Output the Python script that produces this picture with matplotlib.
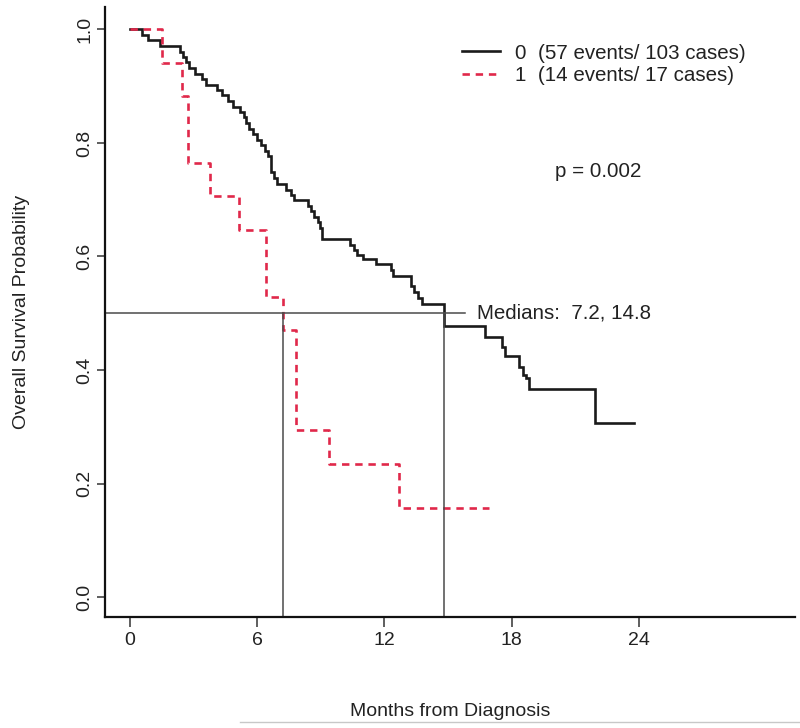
import matplotlib
matplotlib.use("Agg")
import matplotlib.pyplot as plt
from matplotlib.lines import Line2D

plt.rcParams['font.family'] = ['Liberation Sans', 'DejaVu Sans']

# ---- data ----
# group 0: 57 events / 103 cases  (time in months, survival after the step)
g0_time = [0, 0.57, 0.85, 1.42, 2.37, 2.51, 2.65, 2.80, 3.08, 3.41, 3.60,
           4.08, 4.36, 4.60, 4.88, 5.21, 5.36, 5.45, 5.59, 5.78, 5.97,
           6.16, 6.35, 6.49, 6.64, 6.78, 6.92, 7.35, 7.58, 7.73, 8.39,
           8.53, 8.67, 8.86, 8.96, 9.05, 10.38, 10.57, 10.71, 10.99, 11.61,
           12.32, 12.42, 13.27, 13.41, 13.60, 13.79, 14.83, 16.73, 17.54,
           17.68, 18.34, 18.53, 18.67, 18.82, 21.94, 23.79]
g0_surv = [1.0, 0.990, 0.981, 0.971, 0.961, 0.951, 0.942, 0.932, 0.922, 0.913,
           0.903, 0.893, 0.884, 0.874, 0.864, 0.854, 0.845, 0.835, 0.825,
           0.816, 0.806, 0.796, 0.786, 0.777, 0.748, 0.738, 0.728, 0.718,
           0.709, 0.699, 0.689, 0.680, 0.670, 0.660, 0.650, 0.631, 0.621,
           0.612, 0.602, 0.595, 0.586, 0.577, 0.566, 0.548, 0.537, 0.527,
           0.516, 0.477, 0.459, 0.440, 0.424, 0.406, 0.392, 0.386, 0.367,
           0.306, 0.306]

# group 1: 14 events / 17 cases
g1_time = [0, 1.52, 2.46, 2.75, 3.79, 5.12, 6.40, 7.20, 7.82, 9.38, 12.70, 16.92]
g1_surv = [1.0, 0.941, 0.882, 0.765, 0.706, 0.647, 0.529, 0.471, 0.294, 0.235,
           0.157, 0.157]

medians = [7.2, 14.8]
legend_labels = ["0  (57 events/ 103 cases)", "1  (14 events/ 17 cases)"]
p_text = "p = 0.002"
x_ticks = [0, 6, 12, 18, 24]
y_ticks = [0.0, 0.2, 0.4, 0.6, 0.8, 1.0]

# ---- figure ----
fig = plt.figure(figsize=(8, 7.28), dpi=100)
ax = fig.add_axes([105/800, 1-617/728, 690/800, 610/728])
ax.set_xlim(-1.18, 31.37)
ax.set_ylim(-0.0352, 1.0396)

black = '#1a1a1a'
red = '#e0284a'

ax.step(g0_time, g0_surv, where='post', color=black, lw=1.9,
        label=legend_labels[0], solid_joinstyle='miter')
ax.step(g1_time, g1_surv, where='post', color=red, lw=1.9,
        linestyle=(0, (2.8, 2.2)), label=legend_labels[1])

# median guide lines
mcol = '#4a4a4a'
ax.plot([-1.18, 15.8], [0.5, 0.5], color=mcol, lw=1.1)
for m in medians:
    ax.plot([m, m], [-0.0352, 0.5], color=mcol, lw=1.1)
ax.text(16.35, 0.5, "Medians:  %.1f, %.1f" % (medians[0], medians[1]),
        fontsize=14.8, va='center', ha='left', color='#222222')

ax.text(22.1, 0.749, p_text, fontsize=14.8, ha='center', va='center',
        color='#222222')

leg = ax.legend(loc='upper left', bbox_to_anchor=(0.517, 0.94),
                frameon=False, fontsize=14.8, handlelength=1.86,
                handletextpad=0.72, borderpad=0, borderaxespad=0,
                labelspacing=0.17)
for t in leg.get_texts():
    t.set_color('#222222')

# axes styling (R bty="l")
for s in ['top', 'right']:
    ax.spines[s].set_visible(False)
for s in ['left', 'bottom']:
    ax.spines[s].set_linewidth(1.6)
    ax.spines[s].set_color('#111111')

ax.set_xticks(x_ticks)
ax.set_xticklabels([str(v) for v in x_ticks])
ax.set_yticks(y_ticks)
ax.set_yticklabels(["%.1f" % v for v in y_ticks], rotation=90, va='center')
ax.tick_params(axis='both', length=7, width=1.1, color='#333333',
               labelsize=14, labelcolor='#222222')
ax.tick_params(axis='x', pad=4)
ax.tick_params(axis='y', length=6, pad=2.5)

ax.set_xlabel("Months from Diagnosis", fontsize=14, labelpad=39, color='#222222')
ax.set_ylabel("Overall Survival Probability", fontsize=14, labelpad=33,
              color='#222222')

# faint border line at the bottom of the source image
fig.add_artist(Line2D([240/800, 1.0], [1-722/728, 1-722/728],
                      transform=fig.transFigure, color='#c8c8c8', lw=1.0))

fig.savefig("out.png", dpi=100)
